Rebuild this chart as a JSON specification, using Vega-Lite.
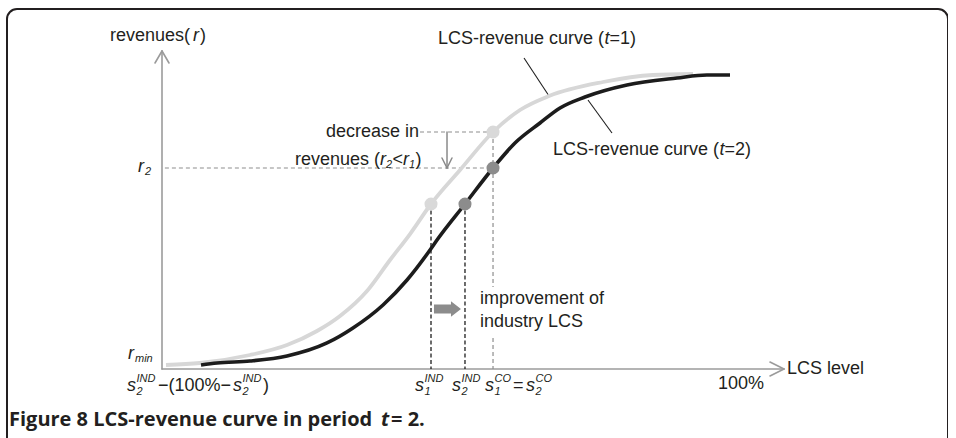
{
  "$schema": "https://vega.github.io/schema/vega-lite/v6.json",
  "width": 941,
  "height": 440,
  "autosize": {"type": "none"},
  "padding": {"left": 7, "top": 9, "right": 0, "bottom": 0},
  "background": "white",
  "config": {"view": {"stroke": "#231f20", "strokeWidth": 2, "cornerRadius": 10}},
  "datasets": {
    "curves": [
      {"s": "t1", "x": 0.69, "y": 1.26}, {"s": "t1", "x": 6.57, "y": 1.89}, {"s": "t1", "x": 15.22, "y": 4.40},
      {"s": "t1", "x": 21.63, "y": 7.55}, {"s": "t1", "x": 26.82, "y": 11.95}, {"s": "t1", "x": 30.80, "y": 16.67},
      {"s": "t1", "x": 35.47, "y": 24.53}, {"s": "t1", "x": 39.45, "y": 34.28}, {"s": "t1", "x": 42.91, "y": 42.45},
      {"s": "t1", "x": 46.54, "y": 51.89}, {"s": "t1", "x": 51.56, "y": 62.58}, {"s": "t1", "x": 57.27, "y": 74.53},
      {"s": "t1", "x": 61.94, "y": 81.45}, {"s": "t1", "x": 66.96, "y": 85.85}, {"s": "t1", "x": 76.30, "y": 90.25},
      {"s": "t1", "x": 84.95, "y": 92.45}, {"s": "t1", "x": 91.87, "y": 92.77},
      {"s": "t2", "x": 6.75, "y": 1.26}, {"s": "t2", "x": 9.52, "y": 1.89}, {"s": "t2", "x": 15.22, "y": 2.52},
      {"s": "t2", "x": 21.63, "y": 4.09}, {"s": "t2", "x": 28.55, "y": 8.18}, {"s": "t2", "x": 33.04, "y": 12.89},
      {"s": "t2", "x": 38.24, "y": 20.13}, {"s": "t2", "x": 42.39, "y": 27.99}, {"s": "t2", "x": 46.37, "y": 37.42},
      {"s": "t2", "x": 47.58, "y": 40.57}, {"s": "t2", "x": 52.42, "y": 51.89}, {"s": "t2", "x": 57.27, "y": 63.21},
      {"s": "t2", "x": 61.07, "y": 71.07}, {"s": "t2", "x": 65.40, "y": 77.36}, {"s": "t2", "x": 68.86, "y": 82.08},
      {"s": "t2", "x": 73.18, "y": 85.53}, {"s": "t2", "x": 80.45, "y": 89.31}, {"s": "t2", "x": 89.10, "y": 91.51},
      {"s": "t2", "x": 94.29, "y": 92.45}, {"s": "t2", "x": 98.27, "y": 92.45}
    ],
    "pts": [
      {"s": "t1", "x": 46.54, "y": 51.89}, {"s": "t1", "x": 57.27, "y": 74.53},
      {"s": "t2", "x": 52.42, "y": 51.89}, {"s": "t2", "x": 57.27, "y": 63.21}
    ],
    "segs": [
      {"k": "axis", "x": 0, "y": 0, "x2": 0, "y2": 100},
      {"k": "axis", "x": 0, "y": 0, "x2": 107.61, "y2": 0},
      {"k": "axis", "x": 0, "y": 100, "x2": -1.21, "y2": 96.23},
      {"k": "axis", "x": 0, "y": 100, "x2": 1.21, "y2": 96.23},
      {"k": "axis", "x": 107.61, "y": 0, "x2": 105.19, "y2": 2.2},
      {"k": "axis", "x": 107.61, "y": 0, "x2": 105.19, "y2": -2.2},
      {"k": "darr", "x": 49.31, "y": 74.53, "x2": 49.31, "y2": 63.21},
      {"k": "darr", "x": 49.31, "y": 63.21, "x2": 48.44, "y2": 66.35},
      {"k": "darr", "x": 49.31, "y": 63.21, "x2": 50.17, "y2": 66.35},
      {"k": "gd", "x": 0.5, "y": 63.21, "x2": 57.27, "y2": 63.21},
      {"k": "gd", "x": 44.64, "y": 74.53, "x2": 57.27, "y2": 74.53},
      {"k": "gd", "x": 57.27, "y": 74.53, "x2": 57.27, "y2": 25.79},
      {"k": "gd", "x": 57.27, "y": 9.75, "x2": 57.27, "y2": 0},
      {"k": "bd", "x": 46.54, "y": 51.89, "x2": 46.54, "y2": 0},
      {"k": "bd", "x": 52.42, "y": 51.89, "x2": 52.42, "y2": 0},
      {"k": "ld", "x": 62.63, "y": 97.8, "x2": 66.96, "y2": 85.85},
      {"k": "ld", "x": 73.7, "y": 84.59, "x2": 77.85, "y2": 74.21}
    ],
    "blk": [{"x": 49.39, "y": 18.87}],
    "txt": [
      {"k": "n", "x": -9.0, "y": 104.72, "t": "revenues("},
      {"k": "n", "x": 6.57, "y": 104.72, "t": ")"},
      {"k": "n", "x": 47.75, "y": 103.77, "t": "LCS-revenue curve ("},
      {"k": "n", "x": 77.42, "y": 103.77, "t": "=1)"},
      {"k": "n", "x": 67.65, "y": 68.87, "t": "LCS-revenue curve ("},
      {"k": "n", "x": 97.32, "y": 68.87, "t": "=2)"},
      {"k": "n", "x": 28.37, "y": 74.53, "t": "decrease in"},
      {"k": "n", "x": 23.01, "y": 65.72, "t": "revenues ("},
      {"k": "n", "x": 39.88, "y": 65.72, "t": "<"},
      {"k": "n", "x": 43.86, "y": 65.72, "t": ")"},
      {"k": "n", "x": 55.02, "y": 22.01, "t": "improvement of"},
      {"k": "n", "x": 55.02, "y": 14.78, "t": "industry LCS"},
      {"k": "n", "x": -0.69, "y": -5.35, "t": "−(100%−"},
      {"k": "n", "x": 17.47, "y": -5.35, "t": ")"},
      {"k": "n", "x": 60.73, "y": -5.35, "t": "="},
      {"k": "n", "x": 96.19, "y": -4.72, "t": "100%"},
      {"k": "n", "x": 108.13, "y": 0, "t": "LCS level"},
      {"k": "i", "x": 5.36, "y": 104.72, "t": "r"},
      {"k": "i", "x": 76.56, "y": 103.77, "t": "t"},
      {"k": "i", "x": 96.46, "y": 68.87, "t": "t"},
      {"k": "i", "x": 37.72, "y": 65.72, "t": "r"},
      {"k": "i", "x": 41.70, "y": 65.72, "t": "r"},
      {"k": "i", "x": -4.15, "y": 63.52, "t": "r"},
      {"k": "i", "x": -5.88, "y": 4.72, "t": "r"},
      {"k": "i", "x": -6.06, "y": -5.35, "t": "s"},
      {"k": "i", "x": 12.28, "y": -5.35, "t": "s"},
      {"k": "i", "x": 43.77, "y": -5.35, "t": "s"},
      {"k": "i", "x": 50.17, "y": -5.35, "t": "s"},
      {"k": "i", "x": 55.88, "y": -5.35, "t": "s"},
      {"k": "i", "x": 62.98, "y": -5.35, "t": "s"},
      {"k": "sub", "x": 38.75, "y": 64.15, "t": "2"},
      {"k": "sub", "x": 42.73, "y": 64.15, "t": "1"},
      {"k": "sub", "x": -2.94, "y": 61.95, "t": "2"},
      {"k": "sub", "x": -4.67, "y": 3.14, "t": "min"},
      {"k": "sub", "x": -4.41, "y": -3.14, "t": "IND"},
      {"k": "sub", "x": -4.41, "y": -7.23, "t": "2"},
      {"k": "sub", "x": 13.93, "y": -3.14, "t": "IND"},
      {"k": "sub", "x": 13.93, "y": -7.23, "t": "2"},
      {"k": "sub", "x": 45.42, "y": -3.14, "t": "IND"},
      {"k": "sub", "x": 45.42, "y": -7.23, "t": "1"},
      {"k": "sub", "x": 51.82, "y": -3.14, "t": "IND"},
      {"k": "sub", "x": 51.82, "y": -7.23, "t": "2"},
      {"k": "sub", "x": 57.53, "y": -3.14, "t": "CO"},
      {"k": "sub", "x": 57.53, "y": -7.23, "t": "1"},
      {"k": "sub", "x": 64.62, "y": -3.14, "t": "CO"},
      {"k": "sub", "x": 64.62, "y": -7.23, "t": "2"},
      {"k": "cap", "x": -26.47, "y": -16.04, "t": "Figure 8 LCS-revenue curve in period"},
      {"k": "capi", "x": 37.89, "y": -16.04, "t": "t"},
      {"k": "cap", "x": 39.62, "y": -16.04, "t": "= 2."}
    ]
  },
  "encoding": {
    "x": {"field": "x", "type": "quantitative", "scale": {"domain": [-26.817, 135.986], "nice": false, "zero": false}, "axis": null},
    "y": {"field": "y", "type": "quantitative", "scale": {"domain": [-25.157, 113.208], "nice": false, "zero": false}, "axis": null}
  },
  "layer": [
    {"data": {"name": "segs"}, "transform": [{"filter": "datum.k === 'axis'"}],
     "mark": {"type": "rule", "color": "#9b9b9b", "strokeWidth": 1.6, "strokeCap": "round"},
     "encoding": {"x2": {"field": "x2"}, "y2": {"field": "y2"}}},
    {"data": {"name": "segs"}, "transform": [{"filter": "datum.k === 'gd'"}],
     "mark": {"type": "rule", "color": "#8e8e8e", "strokeWidth": 1.2, "strokeDash": [4, 3]},
     "encoding": {"x2": {"field": "x2"}, "y2": {"field": "y2"}}},
    {"data": {"name": "segs"}, "transform": [{"filter": "datum.k === 'bd'"}],
     "mark": {"type": "rule", "color": "#1e1e1e", "strokeWidth": 1.3, "strokeDash": [4, 2.5]},
     "encoding": {"x2": {"field": "x2"}, "y2": {"field": "y2"}}},
    {"data": {"name": "segs"}, "transform": [{"filter": "datum.k === 'darr'"}],
     "mark": {"type": "rule", "color": "#8a8a8a", "strokeWidth": 1.5, "strokeCap": "round"},
     "encoding": {"x2": {"field": "x2"}, "y2": {"field": "y2"}}},
    {"data": {"name": "segs"}, "transform": [{"filter": "datum.k === 'ld'"}],
     "mark": {"type": "rule", "color": "#1e1e1e", "strokeWidth": 1.1},
     "encoding": {"x2": {"field": "x2"}, "y2": {"field": "y2"}}},
    {"data": {"name": "curves"}, "transform": [{"filter": "datum.s === 't1'"}],
     "mark": {"type": "line", "color": "#d7d7d7", "strokeWidth": 3.8, "interpolate": "monotone"},
     "encoding": {}},
    {"data": {"name": "curves"}, "transform": [{"filter": "datum.s === 't2'"}],
     "mark": {"type": "line", "color": "#1c1c1c", "strokeWidth": 3.6, "interpolate": "monotone"},
     "encoding": {}},
    {"data": {"name": "pts"}, "transform": [{"filter": "datum.s === 't1'"}],
     "mark": {"type": "point", "filled": true, "opacity": 1, "color": "#d9d9d9", "size": 170},
     "encoding": {}},
    {"data": {"name": "pts"}, "transform": [{"filter": "datum.s === 't2'"}],
     "mark": {"type": "point", "filled": true, "opacity": 1, "color": "#8c8c8c", "size": 170},
     "encoding": {}},
    {"data": {"name": "blk"},
     "mark": {"type": "point", "filled": true, "opacity": 1, "color": "#8c8c8c", "size": 729,
              "shape": "M-1,-0.33L0.26,-0.33L0.26,-0.58L1,0L0.26,0.58L0.26,0.33L-1,0.33Z"},
     "encoding": {}},
    {"data": {"name": "txt"}, "transform": [{"filter": "datum.k === 'n'"}],
     "mark": {"type": "text", "align": "left", "baseline": "middle", "font": "Liberation Sans", "fontSize": 18, "color": "#231f20"},
     "encoding": {"text": {"field": "t"}}},
    {"data": {"name": "txt"}, "transform": [{"filter": "datum.k === 'i'"}],
     "mark": {"type": "text", "align": "left", "baseline": "middle", "font": "Liberation Sans", "fontSize": 18, "fontStyle": "italic", "color": "#231f20"},
     "encoding": {"text": {"field": "t"}}},
    {"data": {"name": "txt"}, "transform": [{"filter": "datum.k === 'sub'"}],
     "mark": {"type": "text", "align": "left", "baseline": "middle", "font": "Liberation Sans", "fontSize": 11, "fontStyle": "italic", "color": "#231f20"},
     "encoding": {"text": {"field": "t"}}},
    {"data": {"name": "txt"}, "transform": [{"filter": "datum.k === 'cap'"}],
     "mark": {"type": "text", "align": "left", "baseline": "middle", "font": "Open Sans", "fontSize": 20, "fontWeight": "bold", "color": "#231f20"},
     "encoding": {"text": {"field": "t"}}},
    {"data": {"name": "txt"}, "transform": [{"filter": "datum.k === 'capi'"}],
     "mark": {"type": "text", "align": "left", "baseline": "middle", "font": "Open Sans", "fontSize": 20, "fontWeight": "bold", "fontStyle": "italic", "color": "#231f20"},
     "encoding": {"text": {"field": "t"}}}
  ]
}
